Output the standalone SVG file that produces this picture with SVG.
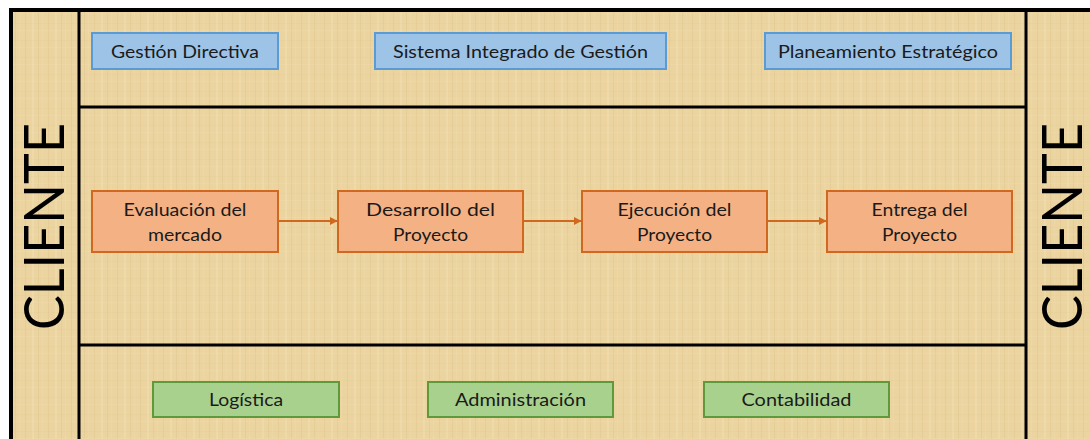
<svg xmlns="http://www.w3.org/2000/svg" width="1090" height="439" viewBox="0 0 1090 439">
<defs>
<style>
.t{font-family:Lato,"Liberation Sans",sans-serif;font-size:18px;fill:#1a1a1a;text-anchor:middle}
.cl{font-family:Lato,"Liberation Sans",sans-serif;font-size:57px;fill:#000;text-anchor:middle}
.blue{fill:#9DC3E6;stroke:#5B9BD5;stroke-width:2}
.orange{fill:#F4B183;stroke:#D0691F;stroke-width:2}
.green{fill:#A9D18E;stroke:#5E9A3C;stroke-width:2}
.frame{stroke:#000;stroke-width:3;fill:none}
.conn{stroke:#D0691F;stroke-width:2;fill:none;marker-end:url(#arr)}
</style>
<marker id="arr" viewBox="0 0 10 10" refX="9" refY="5" markerWidth="4" markerHeight="4" orient="auto">
<path d="M0,0 L10,5 L0,10 z" fill="#D0691F"/>
</marker>
<pattern id="pap" width="23" height="17" patternUnits="userSpaceOnUse">
<rect width="23" height="17" fill="#EBD49F"/>
<rect x="2" width="1" height="17" fill="#DCC08A" opacity="0.35"/>
<rect x="9" width="2" height="17" fill="#F3E2B6" opacity="0.45"/>
<rect x="15" width="1" height="17" fill="#D9BD85" opacity="0.3"/>
<rect x="19" width="1" height="17" fill="#F1DDB0" opacity="0.4"/>
<rect y="6" width="23" height="1" fill="#DDC48E" opacity="0.18"/>
<rect y="13" width="23" height="1" fill="#F2E0B4" opacity="0.25"/>
</pattern>
</defs>
<rect width="1090" height="439" fill="#fff"/>
<rect x="10" y="10" width="1080" height="429" fill="url(#pap)"/>
<g id="frame">
<path d="M11,439 V10 H1090" stroke="#000" stroke-width="4" fill="none"/>
<line class="frame" x1="79" y1="10" x2="79" y2="439"/>
<line class="frame" x1="1026" y1="10" x2="1026" y2="439"/>
<line class="frame" x1="79" y1="107" x2="1026" y2="107"/>
<line class="frame" x1="79" y1="345" x2="1026" y2="345"/>
</g>
<g id="cliente-left"><text class="cl" transform="translate(64,226.5) rotate(-90)" textLength="207" lengthAdjust="spacingAndGlyphs">CLIENTE</text></g>
<g id="cliente-right"><text class="cl" transform="translate(1082,226.5) rotate(-90)" textLength="207" lengthAdjust="spacingAndGlyphs">CLIENTE</text></g>
<g id="gestion-directiva"><rect class="blue" x="92" y="33" width="186" height="36"/><text class="t" x="185" y="58" textLength="148" lengthAdjust="spacingAndGlyphs">Gestión Directiva</text></g>
<g id="sistema-integrado"><rect class="blue" x="375" y="33" width="291" height="36"/><text class="t" x="520.5" y="58" textLength="255" lengthAdjust="spacingAndGlyphs">Sistema Integrado de Gestión</text></g>
<g id="planeamiento"><rect class="blue" x="765" y="33" width="246" height="36"/><text class="t" x="888" y="58" textLength="220" lengthAdjust="spacingAndGlyphs">Planeamiento Estratégico</text></g>
<g id="evaluacion"><rect class="orange" x="92" y="191" width="186" height="61"/><text class="t" x="185" y="216" textLength="123" lengthAdjust="spacingAndGlyphs">Evaluación del</text><text class="t" x="185" y="241" textLength="74" lengthAdjust="spacingAndGlyphs">mercado</text></g>
<g id="desarrollo"><rect class="orange" x="338" y="191" width="185" height="61"/><text class="t" x="430.5" y="216" textLength="129" lengthAdjust="spacingAndGlyphs">Desarrollo del</text><text class="t" x="430.5" y="241" textLength="75" lengthAdjust="spacingAndGlyphs">Proyecto</text></g>
<g id="ejecucion"><rect class="orange" x="582" y="191" width="185" height="61"/><text class="t" x="674.5" y="216" textLength="114" lengthAdjust="spacingAndGlyphs">Ejecución del</text><text class="t" x="674.5" y="241" textLength="75" lengthAdjust="spacingAndGlyphs">Proyecto</text></g>
<g id="entrega"><rect class="orange" x="827" y="191" width="185" height="61"/><text class="t" x="919.5" y="216" textLength="96" lengthAdjust="spacingAndGlyphs">Entrega del</text><text class="t" x="919.5" y="241" textLength="75" lengthAdjust="spacingAndGlyphs">Proyecto</text></g>
<g id="logistica"><rect class="green" x="153" y="382" width="186" height="35"/><text class="t" x="246" y="406" textLength="74" lengthAdjust="spacingAndGlyphs">Logística</text></g>
<g id="administracion"><rect class="green" x="428" y="382" width="185" height="35"/><text class="t" x="520.5" y="406" textLength="131" lengthAdjust="spacingAndGlyphs">Administración</text></g>
<g id="contabilidad"><rect class="green" x="704" y="382" width="185" height="35"/><text class="t" x="796.5" y="406" textLength="110" lengthAdjust="spacingAndGlyphs">Contabilidad</text></g>
<g id="connectors">
<line class="conn" x1="279" y1="221" x2="337" y2="221"/>
<line class="conn" x1="524" y1="221" x2="581" y2="221"/>
<line class="conn" x1="768" y1="221" x2="826" y2="221"/>
</g>
</svg>
